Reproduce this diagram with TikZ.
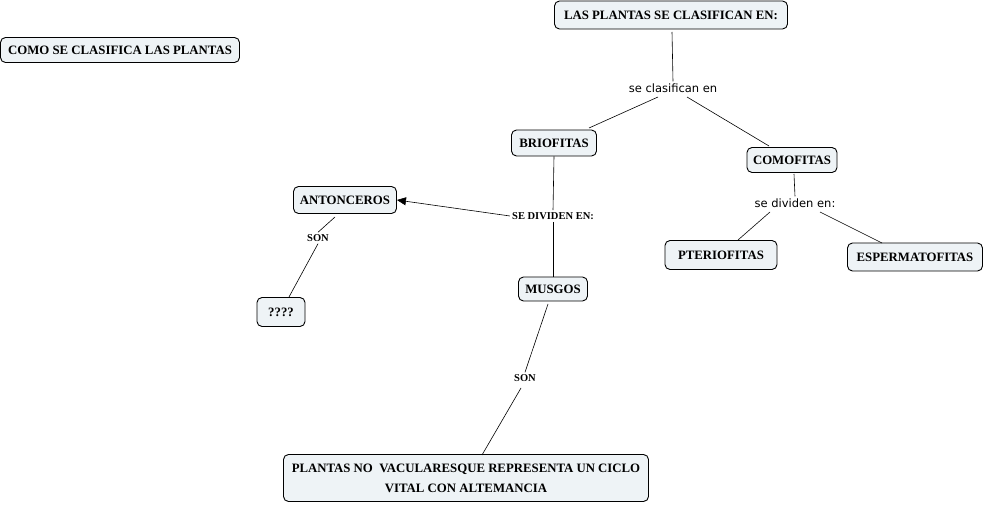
\documentclass[tikz,border=0pt]{standalone}
\usepackage{fontspec}
\setmainfont{Liberation Serif}
\newfontfamily\lblfont{DejaVu Sans}
\usetikzlibrary{arrows.meta}
\definecolor{cfill}{HTML}{EEF3F6}
\tikzset{
  concept/.style={draw=black, line width=0.9pt, rounded corners=5pt, fill=cfill,
    font=\fontsize{12.8}{20}\selectfont\bfseries, align=center, inner sep=2pt},
  linkw/.style={font=\lblfont\fontsize{11.5}{13}\selectfont, inner sep=2pt, fill=white},
  links/.style={font=\fontsize{10.5}{12}\selectfont\bfseries, inner sep=2pt, fill=white},
  conn/.style={draw=black, line width=0.6pt},
}
\begin{document}
\begin{tikzpicture}[x=1pt,y=-1pt]
\useasboundingbox (0,0) rectangle (986,505);
% concepts
\node[concept, minimum width=239pt, minimum height=25pt] (como) at (120,50) {COMO SE CLASIFICA LAS PLANTAS};
\node[concept, minimum width=233pt, minimum height=28pt] (top) at (671,15) {LAS PLANTAS SE CLASIFICAN EN:};
\node[concept, minimum width=85pt, minimum height=26pt] (brio) at (554,143) {BRIOFITAS};
\node[concept, minimum width=90pt, minimum height=25pt] (como2) at (792,160) {COMOFITAS};
\node[concept, minimum width=103pt, minimum height=27pt] (anto) at (345,200) {ANTONCEROS};
\node[concept, minimum width=69pt, minimum height=24pt] (mus) at (553,289) {MUSGOS};
\node[concept, minimum width=48pt, minimum height=29pt] (q) at (281,312) {????};
\node[concept, minimum width=112pt, minimum height=29pt] (pter) at (721,255) {PTERIOFITAS};
\node[concept, minimum width=135pt, minimum height=28pt] (esp) at (915,257) {ESPERMATOFITAS};
\node[concept, minimum width=365pt, minimum height=47pt] (pl) at (466,478) {PLANTAS NO\ \ VACULARESQUE REPRESENTA UN CICLO\\VITAL CON ALTEMANCIA};
% linking phrases
\node[linkw] (l1) at (673,88) {se clasifican en};
\node[links] (l2) at (553,216) {SE DIVIDEN EN:};
\node[linkw] (l3) at (795,203) {se dividen en:};
\node[links] (l4) at (318,238) {SON};
\node[links] (l5) at (525,378) {SON};
% connectors
\coordinate (t1) at (672,32);
\draw[conn] (t1) -- (l1.north);
\coordinate (a1) at (658,97);
\draw[conn] (a1) -- (589,128) coordinate (b1);
\coordinate (a2) at (687,97);
\draw[conn] (a2) -- (769,146) coordinate (b2);
\draw[conn] (brio.south) -- (l2.north);
\draw[conn] (l2.south) -- (mus.north);
\draw[conn, -{Triangle[length=9pt,width=8pt]}] (l2.west) -- (anto.east);
\coordinate (c1) at (794,174);
\draw[conn] (c1) -- (l3.north);
\coordinate (d1) at (770,212);
\draw[conn] (d1) -- (738,240) coordinate (d2);
\coordinate (e1) at (820,212);
\draw[conn] (e1) -- (882,243) coordinate (e2);
\coordinate (f1) at (335,217);
\draw[conn] (f1) -- (l4.north);
\draw[conn] (l4.south) -- (289,297) coordinate (f2);
\coordinate (g1) at (548,304);
\draw[conn] (g1) -- (l5.north);
\coordinate (g2) at (521,388);
\draw[conn] (g2) -- (482,455) coordinate (g3);
\end{tikzpicture}
\end{document}
